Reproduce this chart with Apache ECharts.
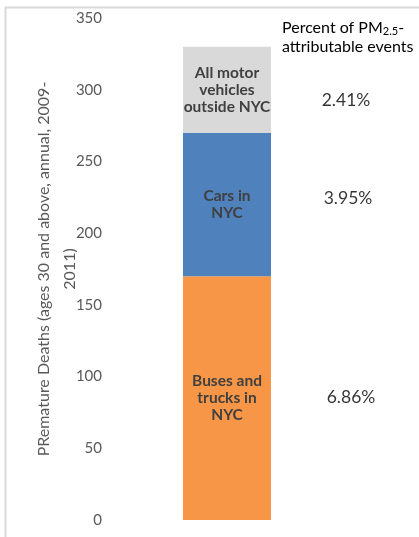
<!DOCTYPE html>
<html>
<head>
<meta charset="utf-8">
<script src="https://cdn.jsdelivr.net/npm/echarts@6/dist/echarts.min.js"></script>
<style>
  html, body { margin: 0; padding: 0; background: #fff; }
  #chart { width: 419px; height: 537px; }
</style>
</head>
<body>
<div id="chart"></div>
<script>
// segments, bottom to top
const segNames = ['Buses and\ntrucks in\nNYC', 'Cars in\nNYC', 'All motor\nvehicles\noutside NYC'];
const segValues = [170, 100, 60];
const segColors = ['#f79646', '#4f81bd', '#d9d9d9'];
const pctLabels = ['6.86%', '3.95%', '2.41%'];
const pctOffsets = [[124, -1], [121, -6], [119, 11]];
const yTicks = { min: 0, max: 350, interval: 50 };
const yTitle = 'PRemature Deaths (ages 30 and above, annual, 2009-\n2011)';

const chart = echarts.init(document.getElementById('chart'));

// stacked bar segments
const barSeries = segValues.map((v, i) => ({
  name: segNames[i],
  type: 'bar',
  stack: 'total',
  barWidth: 88,
  data: [v],
  itemStyle: { color: segColors[i] },
  label: {
    show: true,
    position: 'inside',
    formatter: segNames[i],
    fontFamily: 'Lato',
    fontWeight: 'bold',
    fontSize: 15.5,
    lineHeight: 17,
    color: '#404040'
  }
}));

// midpoints of each segment, for the percent annotations
const mids = [];
let acc = 0;
segValues.forEach(v => { mids.push(acc + v / 2); acc += v; });

const pctSeries = {
  type: 'scatter',
  symbolSize: 0,
  data: mids.map((m, i) => ({
    value: [0, m],
    label: { offset: pctOffsets[i], formatter: pctLabels[i] }
  })),
  label: {
    show: true,
    position: 'inside',
    fontFamily: 'Lato',
    fontSize: 17.5,
    color: '#000'
  },
  silent: true
};

chart.setOption({
  animation: false,
  grid: { left: 110, right: 75, top: 18, bottom: 17 },
  xAxis: {
    type: 'category',
    data: [''],
    axisLine: { show: false },
    axisTick: { show: false },
    axisLabel: { show: false }
  },
  yAxis: {
    type: 'value',
    min: yTicks.min,
    max: yTicks.max,
    interval: yTicks.interval,
    axisLine: { show: false },
    axisTick: { show: false },
    splitLine: { show: false },
    axisLabel: { color: '#595959', fontFamily: 'Lato', fontSize: 15, margin: 8 },
    name: yTitle,
    nameLocation: 'middle',
    nameGap: 27,
    nameMoveOverlap: false,
    nameTextStyle: { color: '#595959', fontFamily: 'Lato', fontSize: 16, lineHeight: 26, align: 'center' }
  },
  graphic: [
    { type: 'line', shape: { x1: 5.5, y1: 7, x2: 5.5, y2: 537 }, style: { stroke: '#d9d9d9', lineWidth: 2 } },
    { type: 'line', shape: { x1: 5, y1: 7.5, x2: 419, y2: 7.5 }, style: { stroke: '#d9d9d9', lineWidth: 2 } },
    {
      type: 'text',
      left: 282,
      top: 18,
      style: {
        text: 'Percent of PM{sub|2.5}-\nattributable events',
        fontFamily: 'Lato',
        fontSize: 16,
        lineHeight: 19,
        fill: '#000',
        rich: { sub: { fontSize: 11, verticalAlign: 'bottom', padding: [6, 0, 0, 0], fontFamily: 'Lato' } }
      }
    }
  ],
  series: barSeries.concat([pctSeries])
});
</script>
</body>
</html>
